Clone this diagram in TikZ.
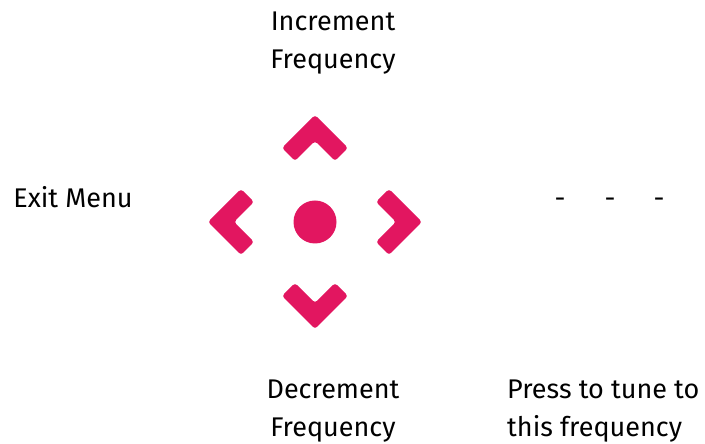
\documentclass[tikz,border=0pt]{standalone}
\usepackage{fontspec}
\setmainfont{Fira Sans}
\definecolor{keypink}{RGB}{226,22,96}

\tikzset{
  label text/.style={font=\fontsize{27}{38}\selectfont, inner sep=0pt},
  key shape/.style={fill=keypink, rounded corners=3pt}
}

\begin{document}
\begin{tikzpicture}[x=1pt,y=1pt]
  \useasboundingbox (0,0) rectangle (705,444);

  % Draw the centre button
  \fill [keypink] (315,222) circle (21.5);

  % Draw the four direction chevrons
  \foreach \angle in {0,90,180,270} {
    \begin{scope}[shift={(315,222)}, rotate=\angle]
      \fill [key shape] (0,107) -- (33,74) -- (20,61) -- (0,81)
                        -- (-20,61) -- (-33,74) -- cycle;
    \end{scope}
  }

  % Draw the labels
  \node [label text, align=center] (up) at (333,401) {Increment\\Frequency};
  \node [label text, align=center] (down) at (333,33) {Decrement\\Frequency};
  \node [label text, anchor=base] (left) at (73,236) {Exit Menu};
  \node [label text, anchor=west, align=left] (press) at (507,33) {Press to tune to\\this frequency};

  % Draw the placeholder dashes
  \node [label text, anchor=base] (dasha) at (560,236) {-};
  \node [label text, anchor=base] (dashb) at (610,236) {-};
  \node [label text, anchor=base] (dashc) at (659,236) {-};
\end{tikzpicture}
\end{document}
